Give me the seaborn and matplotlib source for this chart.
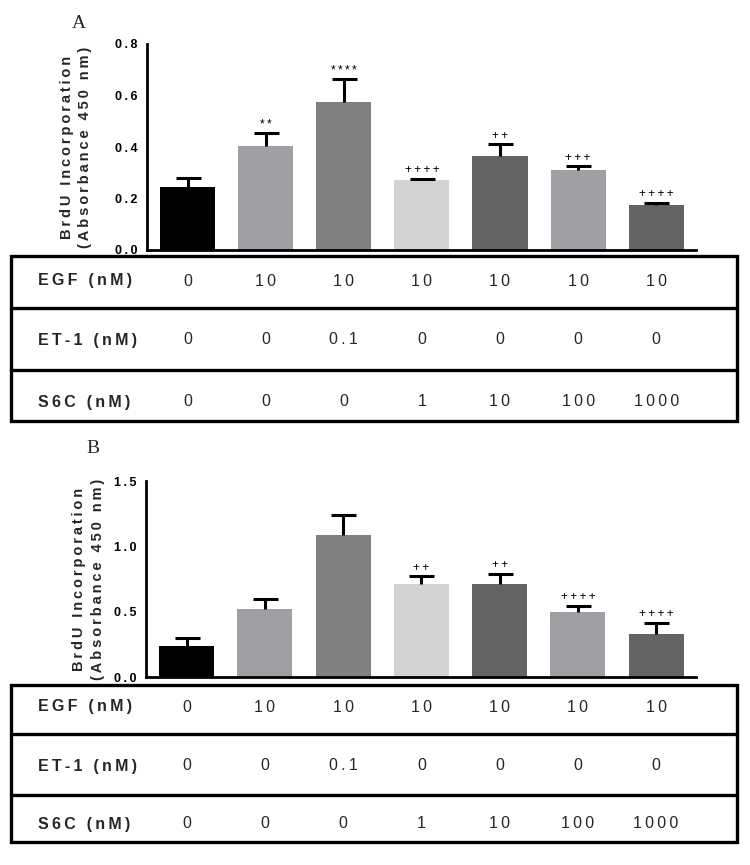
import numpy
import pandas
import seaborn as sns
import matplotlib.pyplot as plt
import matplotlib.patches as patches
import matplotlib.transforms as transforms


# Treatment groups (one bar per group).
groups = ['g1', 'g2', 'g3', 'g4', 'g5', 'g6', 'g7']

# Panel A values.
means_a = [0.245, 0.404, 0.575, 0.272, 0.365, 0.311, 0.175]
sem_a = [0.035, 0.050, 0.089, 0.004, 0.045, 0.015, 0.008]
marks_a = ['', '**', '****', '++++', '++', '+++', '++++']

# Panel B values.
means_b = [0.238, 0.523, 1.090, 0.715, 0.715, 0.500, 0.330]
sem_b = [0.062, 0.077, 0.146, 0.055, 0.075, 0.046, 0.085]
marks_b = ['', '', '', '++', '++', '++++', '++++']

# Treatment table rows.
row_labels = ['EGF (nM)', 'ET-1 (nM)', 'S6C (nM)']
egf_values = ['0', '10', '10', '10', '10', '10', '10']
et1_values = ['0', '0', '0.1', '0', '0', '0', '0']
s6c_values = ['0', '0', '0', '1', '10', '100', '1000']

bar_colors = ['#000000', '#a0a0a4', '#808080', '#d3d3d3', '#636363', '#a0a0a4', '#636363']

W, H = 750, 865
FONT = ['Liberation Sans', 'DejaVu Sans']


def spaced(s):
    # Mimic the wide letter spacing of the original figure with thin spaces.
    return '\u2009'.join(s)


def fig_box(left, top, right, bottom):
    return [left / W, 1 - bottom / H, (right - left) / W, (bottom - top) / H]


def draw_panel(fig, box, means, sems, marks, ymax, ystep, label_x, letter, letter_xy):
    ax = fig.add_axes(fig_box(*box))
    df = pandas.DataFrame({'group': groups, 'mean': means, 'sem': sems})

    sns.barplot(
        data = df, x = 'group', y = 'mean', hue = 'group',
        palette = bar_colors, legend = False, errorbar = None,
        width = 0.705, saturation = 1, linewidth = 0, ax = ax
    )

    # Upper error bars only (hide the lower caps).
    xs = numpy.arange(len(groups))
    _, caplines, _ = ax.errorbar(
        xs, means, yerr = [numpy.zeros(len(sems)), sems], fmt = 'none',
        ecolor = 'black', elinewidth = 2.2, capsize = 9, capthick = 2.2, zorder = 3
    )
    caplines[0].set_visible(False)

    # Significance marks above the error bars.
    for x, m, s, mark in zip(xs, means, sems, marks):
        if mark:
            ax.text(
                x, m + s + ymax * 0.012, spaced(mark), ha = 'center', va = 'bottom',
                fontsize = 8.5, family = FONT, color = 'black'
            )

    ax.set_xlim(-0.52, 6.51)
    ax.set_ylim(0, ymax)
    ticks = numpy.arange(0, ymax + ystep / 2, ystep)
    ax.set_yticks(ticks)
    ax.set_yticklabels([spaced(f'{t:.1f}') for t in ticks], fontsize = 9, fontweight = 'bold', family = FONT)
    ax.set_xticks([])
    ax.set_xlabel(None)
    ax.set_ylabel(
        spaced('BrdU Incorporation') + '\n' + spaced('(Absorbance 450 nm)'),
        fontsize = 10.5, fontweight = 'bold', family = FONT, linespacing = 1.4
    )
    ax.yaxis.set_label_coords(label_x, 0.5)
    ax.tick_params(axis = 'y', length = 5, width = 1.6, direction = 'out', pad = 2, colors = 'black')
    for side in ['top', 'right']:
        ax.spines[side].set_visible(False)
    for side in ['left', 'bottom']:
        ax.spines[side].set_linewidth(2)
        ax.spines[side].set_color('black')

    fig.text(
        letter_xy[0] / W, 1 - letter_xy[1] / H, letter,
        fontsize = 14, family = ['Liberation Serif', 'DejaVu Serif'], ha = 'center', va = 'baseline'
    )
    return ax


def draw_table(fig, ax, left, right, row_lines, text_rows):
    # Outer box and row separators, in figure pixels.
    top, mid1, mid2, bottom = row_lines
    lw = 2.4
    fig.patches.append(patches.Rectangle(
        (left / W, 1 - bottom / H), (right - left) / W, (bottom - top) / H,
        transform = fig.transFigure, fill = False, edgecolor = 'black', linewidth = lw
    ))
    for y in [mid1, mid2]:
        fig.lines.append(plt.Line2D(
            [left / W, right / W], [1 - y / H, 1 - y / H],
            transform = fig.transFigure, color = 'black', linewidth = lw
        ))

    # Column values sit under the bars: x from the bar axes, y in figure.
    trans = transforms.blended_transform_factory(ax.transData, fig.transFigure)
    for label, values, y in zip(row_labels, [egf_values, et1_values, s6c_values], text_rows):
        fig.text(
            38 / W, 1 - y / H, spaced(label), ha = 'left', va = 'center',
            fontsize = 11.5, fontweight = 'bold', family = FONT
        )
        for x, v in enumerate(values):
            ax.text(
                x, 1 - y / H, spaced(v), transform = trans, ha = 'center', va = 'center',
                fontsize = 11.5, family = FONT, clip_on = False
            )


sns.set_theme(style = 'white')
plt.rcParams['font.family'] = FONT

fig = plt.figure(figsize = (7.5, 8.65), dpi = 100)

ax_a = draw_panel(fig, (147, 44, 696, 250), means_a, sem_a, marks_a, 0.8, 0.2, -0.10, 'A', (79, 28))
draw_table(fig, ax_a, 11, 737, (256, 308, 370, 421), (281, 340, 402))

ax_b = draw_panel(fig, (146, 481, 696, 677), means_b, sem_b, marks_b, 1.5, 0.5, -0.075, 'B', (93, 453))
draw_table(fig, ax_b, 11, 737, (685, 734, 795, 842), (707, 766, 824))

plt.savefig('out.png', dpi = 100)
